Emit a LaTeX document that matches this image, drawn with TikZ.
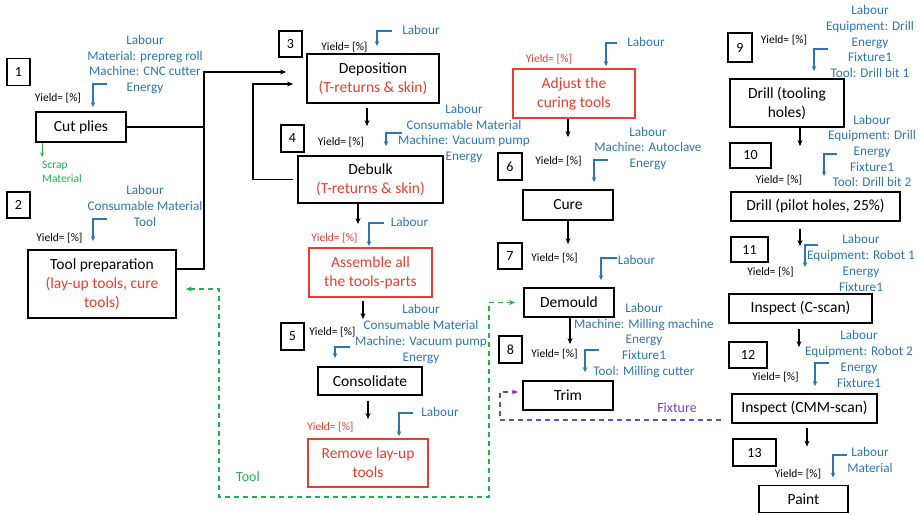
\documentclass[tikz,border=0pt]{standalone}
\usepackage{fontspec}
\setmainfont{Carlito}
\usepackage{xcolor}
\usepackage{tikz}
\usetikzlibrary{arrows.meta, calc}
\definecolor{resBlue}{HTML}{2E75B6}
\definecolor{stepRed}{HTML}{EE3B2E}
\definecolor{toolGreen}{HTML}{22B14C}
\definecolor{fixPurple}{HTML}{8040C0}

\begin{document}
\begin{tikzpicture}[
  x=1pt, y=-1pt,
  box/.style={rectangle, draw, line width=1.8pt, inner sep=0pt, align=center, font=\fontsize{15.5}{19}\selectfont},
  redbox/.style={box, draw=stepRed, text=stepRed},
  num/.style={rectangle, draw, line width=1.3pt, minimum width=23pt, minimum height=27pt, inner sep=0pt, font=\fontsize{14}{16}\selectfont},
  yield/.style={inner sep=0pt, font=\fontsize{11.5}{13}\selectfont},
  res/.style={inner sep=0pt, align=center, text=resBlue, font=\fontsize{13.2}{15.7}\selectfont},
  note/.style={inner sep=0pt, font=\fontsize{14}{16}\selectfont},
  flow/.style={-{Stealth[length=6pt, width=5pt]}, line width=1.2pt},
  line/.style={line width=1.2pt},
  resflow/.style={-{Stealth[length=5pt, width=4.5pt]}, draw=resBlue, line width=1.1pt},
  toolflow/.style={{Stealth[length=6pt, width=5pt]}-{Stealth[length=6pt, width=5pt]}, draw=toolGreen, dash pattern=on 5pt off 4pt, line width=1.4pt},
  fixflow/.style={-{Stealth[length=6pt, width=5pt]}, draw=fixPurple, dash pattern=on 5pt off 4pt, line width=1.3pt},
  scrapflow/.style={-{Stealth[length=4.5pt, width=4pt]}, draw=toolGreen, line width=1pt}
]
  \useasboundingbox (0,0) rectangle (923,514);

  % Process steps
  \node (cut) [box, minimum width=90pt, minimum height=30pt] at (81,127) {Cut plies};
  \node (prep) [box, minimum width=148pt, minimum height=68pt] at (102,284) {Tool preparation\\\textcolor{stepRed}{(lay-up tools, cure}\\\textcolor{stepRed}{tools)}};
  \node (depo) [box, minimum width=132pt, minimum height=49pt] at (373,78.5) {Deposition\\\textcolor{stepRed}{(T-returns \& skin)}};
  \node (debulk) [box, minimum width=145pt, minimum height=47pt] at (370.5,179.5) {Debulk\\\textcolor{stepRed}{(T-returns \& skin)}};
  \node (assem) [redbox, minimum width=123pt, minimum height=49pt] at (370.5,272.5) {Assemble all\\the tools-parts};
  \node (consol) [box, minimum width=104pt, minimum height=28pt] at (370,381) {Consolidate};
  \node (remove) [redbox, minimum width=120pt, minimum height=48pt] at (368,463) {Remove lay-up\\tools};
  \node (adjust) [redbox, minimum width=122pt, minimum height=49pt] at (574,93.5) {Adjust the\\curing tools};
  \node (cure) [box, minimum width=90pt, minimum height=30pt] at (568,205) {Cure};
  \node (demould) [box, minimum width=90pt, minimum height=29pt] at (569,302.5) {Demould};
  \node (trim) [box, minimum width=90pt, minimum height=29pt] at (568,395.5) {Trim};
  \node (drillT) [box, minimum width=114pt, minimum height=48pt] at (787,103) {Drill (tooling\\holes)};
  \node (drillP) [box, minimum width=169pt, minimum height=29pt] at (815.5,206.5) {Drill (pilot holes, 25\%)};
  \node (cscan) [box, minimum width=143pt, minimum height=29pt] at (800.5,308.5) {Inspect (C-scan)};
  \node (cmm) [box, minimum width=145pt, minimum height=29pt] at (804.5,408.5) {Inspect (CMM-scan)};
  \node (paint) [box, minimum width=89pt, minimum height=27pt] at (803.5,499) {Paint};

  % Step numbers
  \node (no1) [num] at (18.5,72) {1};
  \node (no2) [num, minimum height=26pt] at (18.5,205) {2};
  \node (no3) [num, minimum height=26pt] at (290.5,44) {3};
  \node (no4) [num] at (292.5,138.5) {4};
  \node (no5) [num] at (292.5,336.5) {5};
  \node (no6) [num, minimum width=24pt] at (510,166.5) {6};
  \node (no7) [num, minimum width=24pt, minimum height=26pt] at (510,256) {7};
  \node (no8) [num] at (510.5,349.5) {8};
  \node (no9) [num, minimum width=24pt, minimum height=29pt] at (740,47.5) {9};
  \node (no10) [num, minimum width=41pt, minimum height=25pt] at (750.5,155.5) {10};
  \node (no11) [num, minimum width=37pt, minimum height=25pt] at (749.5,249.5) {11};
  \node (no12) [num, minimum width=38pt, minimum height=26pt] at (748,355) {12};
  \node (no13) [num, minimum width=43pt] at (754.5,452.5) {13};

  % Yields
  \node (y1) [yield] at (58,98) {Yield= [\%]};
  \node (y2) [yield] at (59.5,238) {Yield= [\%]};
  \node (y3) [yield] at (344.5,47) {Yield= [\%]};
  \node (y4) [yield] at (341,142) {Yield= [\%]};
  \node (yA) [yield, text=stepRed] at (334.5,238) {Yield= [\%]};
  \node (y5) [yield] at (332.5,332) {Yield= [\%]};
  \node (yR) [yield, text=stepRed] at (330.5,427) {Yield= [\%]};
  \node (yAd) [yield, text=stepRed] at (549,59) {Yield= [\%]};
  \node (y6) [yield] at (558.5,161) {Yield= [\%]};
  \node (y7) [yield] at (554.5,258) {Yield= [\%]};
  \node (y8) [yield] at (554.5,354) {Yield= [\%]};
  \node (y9) [yield] at (784,40) {Yield= [\%]};
  \node (y10) [yield] at (779,180) {Yield= [\%]};
  \node (y11) [yield] at (770.5,272) {Yield= [\%]};
  \node (y12) [yield] at (775.5,377) {Yield= [\%]};
  \node (y13) [yield] at (798,474) {Yield= [\%]};

  % Resources
  \node (r1) [res] at (145,64.5) {Labour\\Material: prepreg roll\\Machine: CNC cutter\\Energy};
  \node (r2) [res] at (145,206) {Labour\\Consumable Material\\Tool};
  \node (r3) [res] at (421,30) {Labour};
  \node (r4) [res] at (464,133.5) {Labour\\Consumable Material\\Machine: Vacuum pump\\Energy};
  \node (rA) [res] at (409.5,222) {Labour};
  \node (r5) [res] at (421,334) {Labour\\Consumable Material\\Machine: Vacuum pump\\Energy};
  \node (rR) [res] at (440,412) {Labour};
  \node (rAd) [res] at (646,42) {Labour};
  \node (r6) [res] at (648,148.5) {Labour\\Machine: Autoclave\\Energy};
  \node (r7) [res] at (636.5,260) {Labour};
  \node (r8) [res] at (644,340.5) {Labour\\Machine: Milling machine\\Energy\\Fixture1\\Tool: Milling cutter};
  \node (r9) [res] at (870,41.5) {Labour\\Equipment: Drill\\Energy\\Fixture1\\Tool: Drill bit 1};
  \node (r10) [res] at (872,151) {Labour\\Equipment: Drill\\Energy\\Fixture1\\Tool: Drill bit 2};
  \node (r11) [res] at (861,263) {Labour\\Equipment: Robot 1\\Energy\\Fixture1};
  \node (r12) [res] at (859,359) {Labour\\Equipment: Robot 2\\Energy\\Fixture1};
  \node (r13) [res] at (870,460) {Labour\\Material};

  \node (scrap) [anchor=north west, align=left, inner sep=0pt, text=toolGreen, font=\fontsize{11.5}{14}\selectfont] at (42,161) {Scrap\\Material};
  \node (toolLbl) [note, text=toolGreen] at (248,477) {Tool};
  \node (fixLbl) [note, text=fixPurple] at (677,408) {Fixture};

  % Resource arrows
  \coordinate (in1) at (107,84);
  \coordinate (in2) at (107,219);
  \coordinate (in3) at (392,31);
  \coordinate (in4) at (402,133);
  \coordinate (inA) at (384,223);
  \coordinate (in5) at (350,347);
  \coordinate (inR) at (413,413);
  \coordinate (inAd) at (617,43);
  \coordinate (in6) at (608,160);
  \coordinate (in7) at (617,258);
  \coordinate (in8) at (599,350);
  \coordinate (in9) at (828,49);
  \coordinate (in10) at (837,154);
  \coordinate (in11) at (818,245);
  \coordinate (in12) at (829,363);
  \coordinate (in13) at (847,455);
  \draw [resflow] (in1) -| ($(cut.north)+(12,-4)$);
  \draw [resflow] (in2) -| ($(prep.north)+(-9,-8)$);
  \draw [resflow] (in3) -| ($(depo.north)+(4,-7)$);
  \draw [resflow] (in4) -| ($(debulk.north)+(15.5,-9)$);
  \draw [resflow] (inA) -| ($(assem.north)+(-1.5,-1)$);
  \draw [resflow] (in5) -| ($(consol.north)+(-35,-8)$);
  \draw [resflow] (inR) -| ($(remove.north)+(31,-2)$);
  \draw [resflow] (inAd) -| ($(adjust.north)+(32,-2)$);
  \draw [resflow] (in6) -| ($(cure.north)+(26,-7)$);
  \draw [resflow] (in7) -| ($(demould.north)+(32,-7)$);
  \draw [resflow] (in8) -| ($(trim.north)+(17,-8)$);
  \draw [resflow] (in9) -| ($(drillT.north)+(27,-7)$);
  \draw [resflow] (in10) -| ($(drillP.north)+(8.5,-15)$);
  \draw [resflow] (in11) -| ($(cscan.north)+(4.5,-26)$);
  \draw [resflow] (in12) -| ($(cmm.north)+(10.5,-7)$);
  \draw [resflow] (in13) -| ($(paint.north)+(29.5,-7)$);

  % Connectors
  \coordinate (jn) at (204,72);
  \coordinate (back) at (253,84);
  \draw [flow, shorten >=20pt] (cut.east) -| (jn) -- (jn -| depo.west);
  \draw [line] ([yshift=15pt]prep.east) -| (jn);
  \draw [flow, shorten <=4pt, shorten >=13pt] (debulk.west) -| (back) -- (back -| depo.west);

  \draw [flow, shorten <=4pt, shorten >=29pt] ([xshift=-6pt]depo.south) -- ([xshift=-6pt]depo.south |- debulk.north);
  \draw [flow, shorten >=23pt] ([xshift=-12.5pt]debulk.south) -- ([xshift=-12.5pt]debulk.south |- assem.north);
  \draw [flow, shorten <=3pt, shorten >=47pt] ([xshift=-7.5pt]assem.south) -- ([xshift=-7.5pt]assem.south |- consol.north);
  \draw [flow, shorten <=5pt, shorten >=19pt] ([xshift=-2pt]consol.south) -- ([xshift=-2pt]consol.south |- remove.north);
  \draw [flow, shorten >=52pt] ([xshift=-6pt]adjust.south) -- ([xshift=-6pt]adjust.south |- cure.north);
  \draw [flow, shorten >=43pt] (cure.south) -- (cure.south |- demould.north);
  \draw [flow, shorten >=36pt] ([xshift=1pt]demould.south) -- ([xshift=1pt]demould.south |- trim.north);
  \draw [flow, shorten >=45pt] ([xshift=13pt]drillT.south) -- ([xshift=13pt]drillT.south |- drillP.north);
  \draw [flow, shorten <=7pt, shorten >=47pt] ([xshift=-15.5pt]drillP.south) -- ([xshift=-15.5pt]drillP.south |- cscan.north);
  \draw [flow, shorten <=5pt, shorten >=46pt] ([xshift=-1.5pt]cscan.south) -- ([xshift=-1.5pt]cscan.south |- cmm.north);
  \draw [flow, shorten <=4pt, shorten >=38pt] ([xshift=2.5pt]cmm.south) -- ([xshift=2.5pt]cmm.south |- paint.north);

  \draw [scrapflow, shorten >=4pt] ([xshift=7pt]cut.south west) -- ([xshift=7pt]cut.south west |- scrap.north);

  \coordinate (toolL) at (219,497);
  \coordinate (toolR) at (489,497);
  \draw [toolflow, shorten <=9pt, shorten >=8pt] ([yshift=-5pt]prep.east) -| (toolL) -- (toolR) |- (demould.west);

  \coordinate (fixL) at (500,392);
  \draw [fixflow, shorten <=10pt, shorten >=4pt] ([yshift=-11.5pt]cmm.west) -| (fixL) -- (fixL -| trim.west);
\end{tikzpicture}
\end{document}
